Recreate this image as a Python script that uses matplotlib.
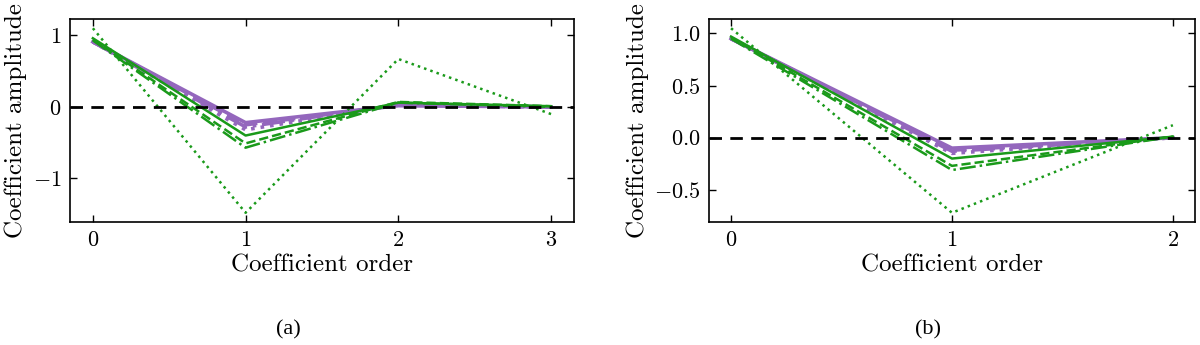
import matplotlib
matplotlib.use("Agg")
import matplotlib.pyplot as plt

plt.rcParams['font.family'] = 'serif'
plt.rcParams['font.serif'] = ['cmr10']
plt.rcParams['mathtext.fontset'] = 'cm'
plt.rcParams['axes.formatter.use_mathtext'] = True

# panel (a): four coefficients
orders_a = [0, 1, 2, 3]
green_a = {
    '-':  [0.96, -0.40, 0.06, 0.01],
    '--': [0.94, -0.51, 0.07, 0.01],
    '-.': [0.93, -0.57, 0.06, 0.00],
    ':':  [1.10, -1.48, 0.67, -0.10],
}
purple_a = {
    '-':  [0.91, -0.22, 0.02, 0.00],
    '--': [0.91, -0.25, 0.02, 0.00],
    '-.': [0.91, -0.28, 0.03, 0.00],
    ':':  [0.91, -0.32, 0.03, 0.00],
}

# panel (b): three coefficients
orders_b = [0, 1, 2]
green_b = {
    '-':  [0.97, -0.20, 0.01],
    '--': [0.96, -0.27, 0.01],
    '-.': [0.95, -0.31, 0.01],
    ':':  [1.05, -0.72, 0.12],
}
purple_b = {
    '-':  [0.95, -0.10, 0.00],
    '--': [0.95, -0.12, 0.00],
    '-.': [0.95, -0.13, 0.00],
    ':':  [0.95, -0.15, 0.00],
}

green = '#1a9a1a'
purple = '#9467bd'

fig = plt.figure(figsize=(12, 3.45), dpi=100)
ax_a = fig.add_axes([0.0583, 0.3565, 0.42, 0.5884])
ax_b = fig.add_axes([0.5908, 0.3565, 0.405, 0.5884])


def draw(ax, x, greens, purples):
    for ls, vals in purples.items():
        ax.plot(x, vals, color=purple, ls=ls, lw=2.6)
    for ls, vals in greens.items():
        ax.plot(x, vals, color=green, ls=ls, lw=1.8)
    ax.axhline(0, color='black', ls='--', lw=2, dashes=(4.5, 3))
    ax.set_xticks(x)
    ax.set_xlabel('Coefficient order', fontsize=18, labelpad=3)
    ax.set_ylabel('Coefficient amplitude', fontsize=18, labelpad=4)
    ax.tick_params(direction='in', top=True, right=True, length=5,
                   width=1, labelsize=16, pad=6)
    for s in ax.spines.values():
        s.set_linewidth(1.2)


draw(ax_a, orders_a, green_a, purple_a)
draw(ax_b, orders_b, green_b, purple_b)
ax_a.set_yticks([-1, 0, 1])
ax_b.set_yticks([-0.5, 0.0, 0.5, 1.0])

# sub-figure captions
fig.text(0.24, 0.045, '(a)', ha='center', va='center', fontsize=16,
         family=['Liberation Serif', 'DejaVu Serif'])
fig.text(0.773, 0.045, '(b)', ha='center', va='center', fontsize=16,
         family=['Liberation Serif', 'DejaVu Serif'])

fig.savefig('out.png', dpi=100)
